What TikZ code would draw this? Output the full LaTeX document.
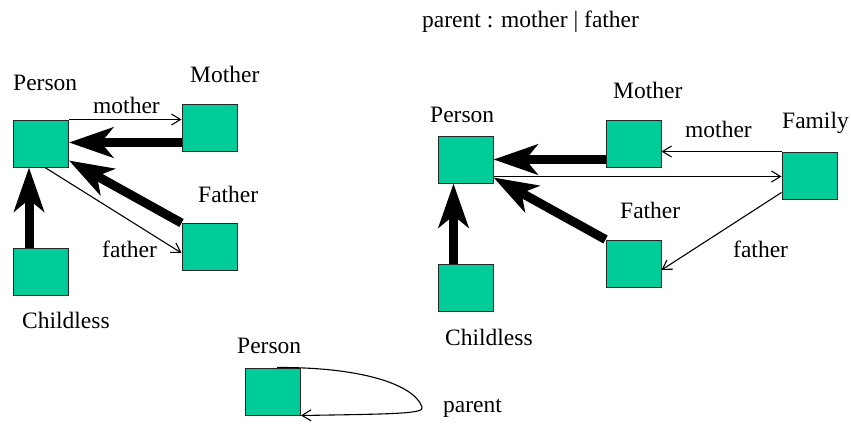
\documentclass[tikz,border=0pt]{standalone}
\usepackage{fontspec}
\setmainfont{Liberation Serif}
\usetikzlibrary{arrows.meta}
\definecolor{boxgreen}{RGB}{0,204,153}
\begin{document}
\begin{tikzpicture}[x=1pt,y=-1pt,
  box/.style={draw=black!85,line width=1pt,fill=boxgreen,minimum width=55pt,minimum height=47pt,inner sep=0pt},
  lbl/.style={anchor=base west,inner sep=0pt,font=\fontsize{23.5}{28}\selectfont},
  thin/.style={line width=1.1pt,-{Straight Barb[length=9pt,width=11pt]}},
  thick/.style={line width=9pt,-{Stealth[length=44pt,width=30pt,inset=12pt]}}]
\useasboundingbox (0,0) rectangle (851,424);
% left diagram
\node[box] (lP) at (41,143.5) {};
\node[box] (lM) at (209.5,127.5) {};
\node[box] (lF) at (209.5,247) {};
\node[box] (lC) at (41,271.5) {};
\node[lbl] (tlP) at (13,90) {Person};
\node[lbl] (tlM) at (190,82) {Mother};
\node[lbl] (tlF) at (198,202) {Father};
\node[lbl] (tlC) at (22,328) {Childless};
\node[lbl] (tlm) at (93,113) {mother};
\node[lbl] (tlf) at (102,257) {father};
\draw[thin] (lP.north east) -- (lP.north east -| lM.west);
\draw[thick] ([yshift=9pt]lM.south west) -- ([yshift=9pt]lM.south west -| lP.east);
\draw[thick] (lF.north west) -- ([yshift=7pt]lP.south east);
\draw[thin] ([xshift=4pt]lP.south) -- ([yshift=-6pt]lF.west);
\draw[thick] ([xshift=-12pt]lC.north) -- ([xshift=-12pt]lP.south);
% right diagram
\node[box] (rP) at (465.5,159.5) {};
\node[box] (rM) at (633.5,143.5) {};
\node[box] (rY) at (809.5,175.5) {};
\node[box] (rF) at (633.5,263.5) {};
\node[box] (rC) at (465.5,287.5) {};
\node[lbl] (trP) at (430,122) {Person};
\node[lbl] (trM) at (613,98) {Mother};
\node[lbl] (trY) at (782,128) {Family};
\node[lbl] (trm) at (685,137) {mother};
\node[lbl] (trF) at (620,218) {Father};
\node[lbl] (trf) at (733,257) {father};
\node[lbl] (trC) at (445,345) {Childless};
\draw[thin] (rY.north west) -- (rY.north west -| rM.east);
\draw[thin] ([yshift=7pt]rP.south east) -- ([yshift=7pt]rP.south east -| rY.west);
\draw[thick] ([yshift=8pt]rM.south west) -- ([yshift=8pt]rM.south west -| rP.east);
\draw[thick] (rF.north west) -- ([yshift=6pt]rP.south east);
\draw[thin] ([yshift=7pt]rY.south west) -- ([yshift=-6.5pt]rF.east);
\draw[thick] ([xshift=-12pt]rC.north) -- ([xshift=-12pt]rP.south);
% bottom
\node[box] (bP) at (273,391.5) {};
\node[lbl] (tbP) at (237,353) {Person};
\node[lbl] (tbp) at (443,412) {parent};
\coordinate (nose) at (422,407);
\draw[thin] ([xshift=4pt]bP.north) .. controls (360,367) and (414,384) .. (nose)
  .. controls (426,414) and (390,414) .. (bP.south east);
% top
\node[lbl] (top) at (422,27) {parent : mother | father};
\end{tikzpicture}
\end{document}
